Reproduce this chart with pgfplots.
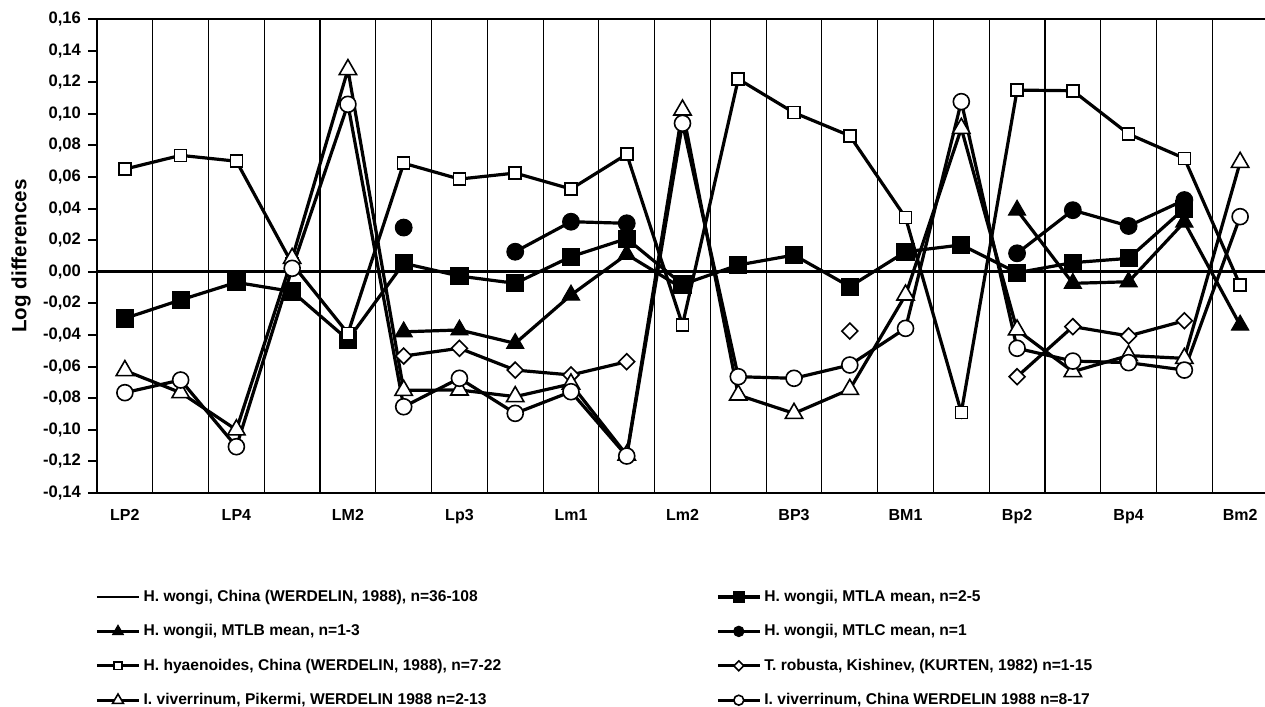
\documentclass[border=0pt]{standalone}
\usepackage{fontspec}
\setmainfont{Liberation Sans}
\usepackage{pgfplots}
\pgfplotsset{compat=1.18}
\begin{document}
\begin{tikzpicture}
\begin{axis}[
  scale only axis, width=585.5pt, height=237pt,
  xmin=-0.5, xmax=20.5, ymin=-0.14, ymax=0.16,
  axis line style={line width=1pt},
  xtick={0,2,...,20},
  xticklabels={LP2,LP4,LM2,Lp3,Lm1,Lm2,BP3,BM1,Bp2,Bp4,Bm2},
  minor xtick={0.5,1.5,...,19.5},
  xminorgrids, minor grid style={black, line width=0.55pt},
  minor tick length=0pt,
  xtick style={draw=none},
  ytick={-0.14,-0.12,-0.10,-0.08,-0.06,-0.04,-0.02,0,0.02,0.04,0.06,0.08,0.10,0.12,0.14,0.16},
  ytick style={line width=1pt, black},
  tick align=outside, major tick length=4.5pt,
  yticklabel style={font=\fontsize{8.3}{10}\selectfont\bfseries,
    /pgf/number format/.cd, fixed, fixed zerofill, precision=2, use comma, assume math mode=true},
  xticklabel style={font=\fontsize{8}{10}\selectfont\bfseries, yshift=0pt},
  ylabel={Log differences},
  ylabel style={font=\fontsize{10.3}{12}\selectfont\bfseries, at={(axis description cs:-0.0649,0.5)}, anchor=center},
  unbounded coords=jump,
  clip=true,
  legend columns=2,
  legend style={at={(axis description cs:0,0)}, anchor=north west, xshift=-1pt, yshift=-48pt,
    draw=none, fill=none, inner sep=0pt, row sep=9.6pt,
    font=\fontsize{7.8}{9}\selectfont\bfseries,
    nodes={inner sep=0pt, text height=5.9pt, text depth=1.7pt},
    /tikz/every odd column/.append style={column sep=1.5pt},
    /tikz/every even column/.append style={column sep=107.5pt}},
  legend cell align=left,
  legend image code/.code={\draw[mark repeat=2,mark phase=2,#1,every mark/.append style={scale=0.62}] plot coordinates {(0pt,0pt)(10.5pt,0pt)(21pt,0pt)};},
  every axis plot/.append style={line width=1.6pt, black},
]
% baseline H. wongi China
\addplot[black, line width=1.4pt, mark=none] coordinates {(-0.5,0) (20.5,0)};
\addlegendentry{H. wongi, China (WERDELIN, 1988), n=36-108}
% MTLA mean
\addplot[black, mark=square*, mark size=4.3pt, mark options={fill=black, line width=0.5pt}] coordinates {
(0,-0.0295) (1,-0.0178) (2,-0.0067) (3,-0.0125) (4,-0.043) (5,0.0054) (6,-0.0027) (7,-0.0073)
(8,0.0096) (9,0.021) (10,-0.008) (11,0.0043) (12,0.0106) (13,-0.0094) (14,0.0127) (15,0.017)
(16,-0.0006) (17,0.0058) (18,0.0085) (19,0.040)};
\addlegendentry{H. wongii, MTLA mean, n=2-5}
% MTLB mean
\addplot[black, mark=triangle*, mark size=5pt, mark options={fill=black, line width=0.5pt}] coordinates {
(5,-0.038) (6,-0.0368) (7,-0.0453) (8,-0.0147) (9,0.011) (10,-0.0105) (11,nan)
(16,0.039) (17,-0.0073) (18,-0.0063) (19,0.0315) (20,-0.0337)};
\addlegendentry{H. wongii, MTLB mean, n=1-3}
% MTLC mean
\addplot[black, mark=*, mark size=4.2pt, mark options={fill=black, line width=0.5pt}] coordinates {
(5,0.028) (6,nan) (7,0.0127) (8,0.0317) (9,0.0307) (10,nan)
(16,0.0117) (17,0.039) (18,0.029) (19,0.0454)};
\addlegendentry{H. wongii, MTLC mean, n=1}
% H. hyaenoides
\addplot[black, mark=square*, mark size=3pt, mark options={fill=white, line width=0.8pt}] coordinates {
(0,0.065) (1,0.0737) (2,0.070) (3,0.005) (4,-0.039) (5,0.0687) (6,0.0587) (7,0.0625) (8,0.0524)
(9,0.0744) (10,-0.0336) (11,0.122) (12,0.1007) (13,0.0861) (14,0.0343) (15,-0.089) (16,0.115)
(17,0.1146) (18,0.0872) (19,0.0718) (20,-0.0084)};
\addlegendentry{H. hyaenoides, China (WERDELIN, 1988), n=7-22}
% T. robusta
\addplot[black, mark=square*, mark size=2.8pt, mark options={fill=white, rotate=45, line width=0.8pt}] coordinates {
(5,-0.0533) (6,-0.0484) (7,-0.0622) (8,-0.0653) (9,-0.0569) (10,nan)
(13,-0.0375) (14,nan)
(16,-0.0664) (17,-0.0347) (18,-0.0406) (19,-0.031)};
\addlegendentry{T. robusta, Kishinev, (KURTEN, 1982) n=1-15}
% I. viverrinum Pikermi
\addplot[black, mark=triangle*, mark size=5pt, mark options={fill=white, line width=0.8pt}] coordinates {
(0,-0.0625) (1,-0.0765) (2,-0.100) (3,0.0085) (4,0.128) (5,-0.075) (6,-0.0748) (7,-0.079)
(8,-0.071) (9,-0.116) (10,0.1024) (11,-0.078) (12,-0.0896) (13,-0.0744) (14,-0.0147) (15,0.0908)
(16,-0.0368) (17,-0.0632) (18,-0.053) (19,-0.0548) (20,0.0693)};
\addlegendentry{I. viverrinum, Pikermi, WERDELIN 1988 n=2-13}
% I. viverrinum China
\addplot[black, mark=*, mark size=4pt, mark options={fill=white, line width=0.8pt}] coordinates {
(0,-0.0765) (1,-0.0685) (2,-0.1107) (3,0.0022) (4,0.106) (5,-0.0854) (6,-0.0674) (7,-0.0896)
(8,-0.0759) (9,-0.1166) (10,0.094) (11,-0.0664) (12,-0.0674) (13,-0.059) (14,-0.0358) (15,0.1077)
(16,-0.0484) (17,-0.0565) (18,-0.0575) (19,-0.0622) (20,0.0349)};
\addlegendentry{I. viverrinum, China WERDELIN 1988 n=8-17}
\end{axis}
\pgfresetboundingbox
\useasboundingbox (-48.5pt,-107pt) rectangle (584pt,246.5pt);
\end{tikzpicture}
\end{document}
